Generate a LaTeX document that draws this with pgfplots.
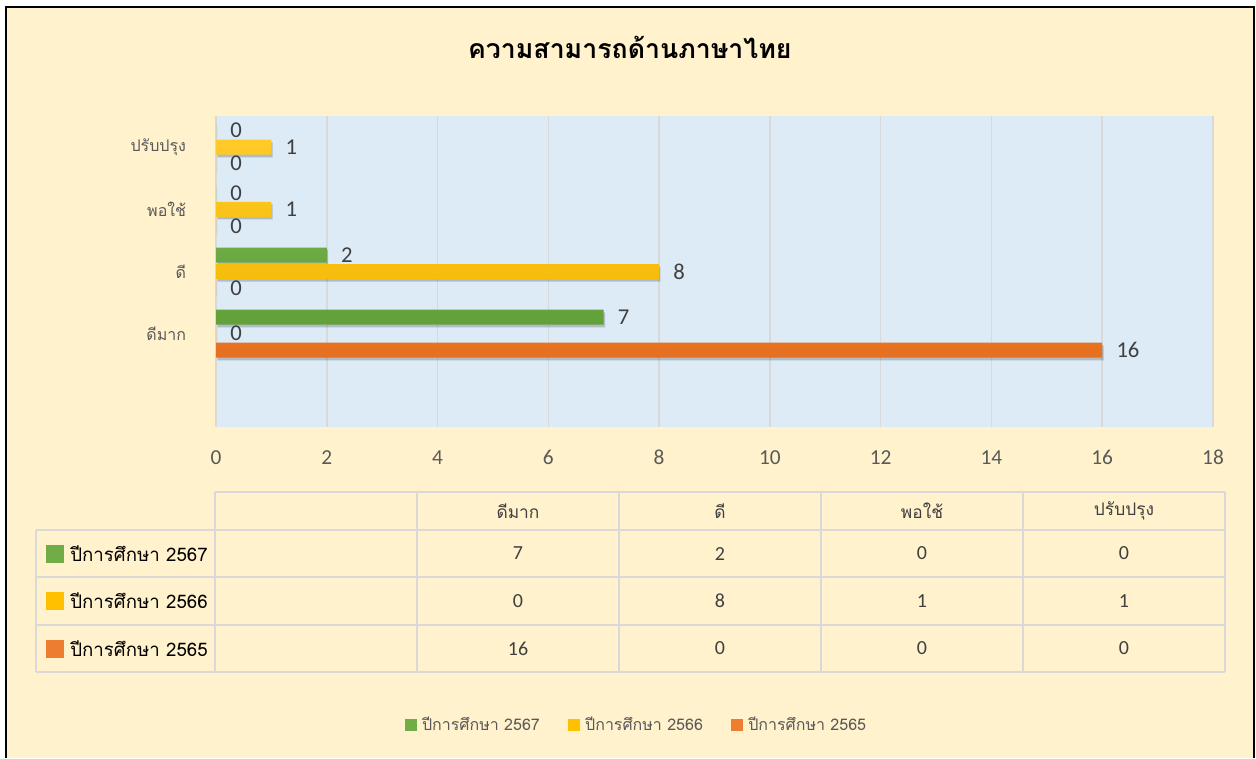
\documentclass[border=0pt]{standalone}
\usepackage{fontspec}
\usepackage{pgfplots}
\usepackage{pgfplotstable}
\pgfplotsset{compat=1.18}
\setmainfont{Carlito}
\newfontfamily\thai[Script=Thai]{Loma}

\definecolor{cream}{HTML}{FFF2CC}
\definecolor{plotbg}{HTML}{DDEBF7}
\definecolor{gridc}{HTML}{D9D9D9}
\definecolor{txtgrey}{HTML}{595959}
\definecolor{lblgrey}{HTML}{404040}
\definecolor{cgreen}{HTML}{70AD47}
\definecolor{greenT}{HTML}{7DBA55}
\definecolor{greenB}{HTML}{62A03A}
\definecolor{cyellow}{HTML}{FFC000}
\definecolor{yellowT}{HTML}{FFCA28}
\definecolor{yellowB}{HTML}{F2B700}
\definecolor{corange}{HTML}{ED7D31}
\definecolor{orangeT}{HTML}{F38B4B}
\definecolor{orangeB}{HTML}{E6701F}

% cat: 0 = ดีมาก, 1 = ดี, 2 = พอใช้, 3 = ปรับปรุง
\pgfplotstableread{
cat y2567 y2566 y2565
0   7     0     16
1   2     8     0
2   0     1     0
3   0     1     0
}\datatable

\begin{document}
\begin{tikzpicture}
% background
\begin{scope}[x=0.75pt,y=-0.75pt]
\path[use as bounding box] (0,0) rectangle (1256,758);
\fill[white] (0,0) rectangle (1256,758);
\fill[cream] (6,7) rectangle (1254,758);
\draw[black, line width=2pt] (6,758) -- (6,7) -- (1254,7) -- (1254,758);
\end{scope}

\begin{axis}[
  at={(162pt,-320.25pt)}, anchor=south west,
  width=747.75pt, height=233.25pt, scale only axis,
  xbar, bar width=11.25pt,
  xmin=0, xmax=18, ymin=-1.5, ymax=3.5,
  xtick={0,2,...,18}, ytick={0,1,2,3},
  yticklabels={ดีมาก,ดี,พอใช้,ปรับปรุง},
  axis background/.style={fill=plotbg},
  axis line style={draw=none},
  major tick style={draw=none},
  xmajorgrids, grid style={gridc, line width=1.2pt},
  /pgf/number format/assume math mode=true,
  xticklabel style={font=\fontsize{16}{16}\selectfont, text=txtgrey, anchor=center, yshift=-23pt},
  yticklabel style={font=\thai\fontsize{12}{12}\selectfont, text=txtgrey, anchor=east, inner sep=0pt, xshift=-18pt},
  title={\thai\bfseries ความสามารถด้านภาษาไทย},
  title style={at={(rel axis cs:0.415,1.196)}, anchor=center, font=\fontsize{20}{20}\selectfont},
  legend style={at={(rel axis cs:0.422,-0.958)}, anchor=center, draw=none, fill=none,
     legend columns=3, font=\thai\fontsize{12}{12}\selectfont, text=txtgrey,
     /tikz/every odd column/.append style={column sep=2pt},
     /tikz/every even column/.append style={column sep=19pt}},
  legend image code/.code={\fill[#1, draw=none] (0pt,-4.5pt) rectangle (9pt,4.5pt);},
  nodes near coords style={anchor=west, inner sep=0pt, xshift=10.5pt, font=\fontsize{17}{17}\selectfont, text=lblgrey},
]
% shadows
\addplot[forget plot, draw=none, fill=black, fill opacity=0.2, bar shift=12.375pt, xshift=1pt, yshift=-2pt] table[x=y2567,y=cat]{\datatable};
\addplot[forget plot, draw=none, fill=black, fill opacity=0.2, bar shift=0pt, xshift=1pt, yshift=-2pt] table[x=y2566,y=cat]{\datatable};
\addplot[forget plot, draw=none, fill=black, fill opacity=0.2, bar shift=-12.375pt, xshift=1pt, yshift=-2pt] table[x=y2565,y=cat]{\datatable};
% bars
\addplot[forget plot, draw=none, top color=greenT, bottom color=greenB, bar shift=12.375pt, nodes near coords] table[x=y2567,y=cat]{\datatable};
\addplot[forget plot, draw=none, top color=yellowT, bottom color=yellowB, bar shift=0pt, nodes near coords] table[x=y2566,y=cat]{\datatable};
\addplot[forget plot, draw=none, top color=orangeT, bottom color=orangeB, bar shift=-12.375pt, nodes near coords] table[x=y2565,y=cat]{\datatable};
\addlegendimage{fill=cgreen}
\addlegendentry{ปีการศึกษา 2567}
\addlegendimage{fill=cyellow}
\addlegendentry{ปีการศึกษา 2566}
\addlegendimage{fill=corange}
\addlegendentry{ปีการศึกษา 2565}
\end{axis}

% data table
\begin{scope}[x=0.75pt,y=-0.75pt]
\foreach \x in {215,417,619,821,1023,1225} \draw[gridc, line width=1.5pt] (\x,492) -- (\x,672);
\draw[gridc, line width=1.5pt] (36,530) -- (36,672);
\draw[gridc, line width=1.5pt] (215,492) -- (1225,492);
\foreach \y in {530,577,625,672} \draw[gridc, line width=1.5pt] (36,\y) -- (1225,\y);
% header
\foreach \x/\t in {518/ดีมาก,720/ดี,922/พอใช้,1124/ปรับปรุง}
  \node[text=lblgrey, font=\thai\fontsize{13}{13}\selectfont] at (\x,511) {\t};
% rows
\foreach \y/\c/\lab/\a/\b/\cc/\d in {553.5/cgreen/2567/7/2/0/0, 601/cyellow/2566/0/8/1/1, 648.5/corange/2565/16/0/0/0}{
  \fill[\c] (46,\y-9) rectangle (64,\y+9);
  \node[anchor=west, inner sep=0pt, text=black, font=\thai\fontsize{14}{14}\selectfont] at (70,\y) {ปีการศึกษา \lab};
  \node[text=lblgrey, font=\fontsize{15}{15}\selectfont] at (518,\y) {\a};
  \node[text=lblgrey, font=\fontsize{15}{15}\selectfont] at (720,\y) {\b};
  \node[text=lblgrey, font=\fontsize{15}{15}\selectfont] at (922,\y) {\cc};
  \node[text=lblgrey, font=\fontsize{15}{15}\selectfont] at (1124,\y) {\d};
}
\end{scope}
\end{tikzpicture}
\end{document}
